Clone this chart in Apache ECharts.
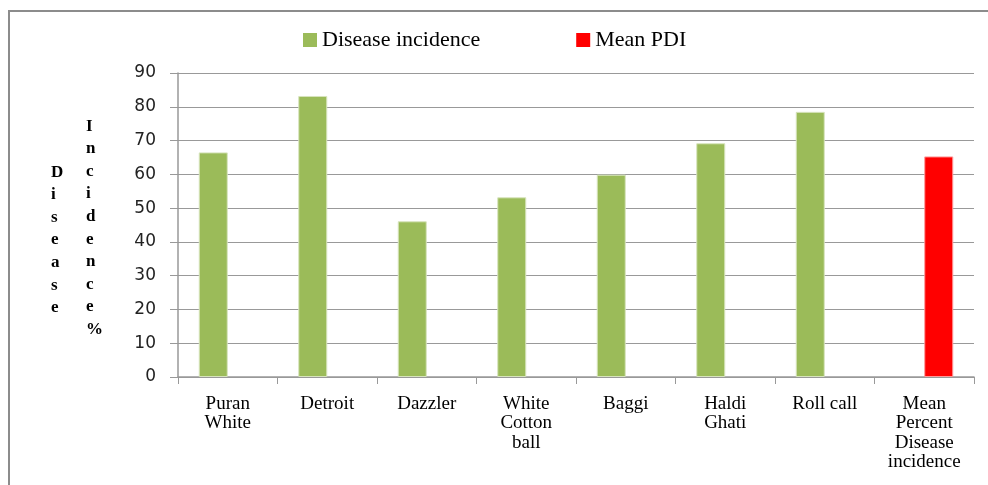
<!DOCTYPE html>
<html>
<head>
<meta charset="utf-8">
<script src="https://cdn.jsdelivr.net/npm/echarts@6/dist/echarts.min.js"></script>
<style>
  html, body { margin: 0; padding: 0; background: #fff; }
  #main { width: 988px; height: 485px; }
</style>
</head>
<body>
<div id="main"></div>
<script>
// 数据
var categories = ['Puran\nWhite', 'Detroit', 'Dazzler', 'White\nCotton\nball', 'Baggi', 'Haldi\nGhati', 'Roll call', 'Mean\nPercent\nDisease\nincidence'];
var incidence = [66.5, 83.2, 46.1, 53.2, 59.9, 69.2, 78.5, '-'];
var meanPDI = ['-', '-', '-', '-', '-', '-', '-', 65.3];
var yTicks = [0, 10, 20, 30, 40, 50, 60, 70, 80, 90];

var serif = '"Liberation Serif", "Times New Roman", serif';
var myChart = echarts.init(document.getElementById('main'));

option = {
    animation: false,
    backgroundColor: '#fff',
    legend: {
        top: 24,
        left: 298,
        itemWidth: 14,
        itemHeight: 14,
        itemGap: 96,
        itemStyle: { borderWidth: 0 },
        textStyle: { fontFamily: serif, fontSize: 22, color: '#000' },
        data: [
            { name: 'Disease incidence', icon: 'rect' },
            { name: 'Mean PDI', icon: 'rect' }
        ]
    },
    grid: { left: 178, right: 14, top: 73, bottom: 108 },
    xAxis: {
        type: 'category',
        data: categories,
        axisLine: { lineStyle: { color: '#999', width: 1.5 } },
        axisTick: { show: true, length: 7, alignWithLabel: false, lineStyle: { color: '#999' } },
        axisLabel: {
            interval: 0,
            margin: 17,
            fontFamily: serif,
            fontSize: 19,
            lineHeight: 19.5,
            color: '#000'
        }
    },
    yAxis: {
        type: 'value',
        min: yTicks[0],
        max: yTicks[yTicks.length - 1],
        interval: 10,
        axisLine: { show: true, lineStyle: { color: '#999', width: 1.5 } },
        axisTick: { show: true, length: 8, lineStyle: { color: '#999' } },
        splitLine: { lineStyle: { color: '#999', width: 1.2 } },
        axisLabel: {
            margin: 22,
            fontFamily: '"DejaVu Sans", Verdana, sans-serif',
            fontSize: 17,
            color: '#222'
        }
    },
    series: [
        {
            name: 'Disease incidence',
            type: 'bar',
            data: incidence,
            barWidth: 29,
            barGap: '0%',
            itemStyle: { color: '#9BBB59', borderColor: '#D7E4BD', borderWidth: 1 }
        },
        {
            name: 'Mean PDI',
            type: 'bar',
            data: meanPDI,
            barWidth: 29,
            barGap: '0%',
            itemStyle: { color: '#FF0000', borderColor: '#FF9999', borderWidth: 1 }
        }
    ],
    graphic: [
        {
            type: 'rect',
            shape: { x: 9, y: 11, width: 1100, height: 600 },
            style: { fill: 'none', stroke: '#8c8c8c', lineWidth: 2 },
            silent: true
        },
        {
            type: 'text',
            left: 51,
            top: 161,
            style: {
                text: 'D\ni\ns\ne\na\ns\ne',
                font: 'bold 17px ' + serif,
                lineHeight: 22.6,
                align: 'center',
                fill: '#000'
            }
        },
        {
            type: 'text',
            left: 86,
            top: 115,
            style: {
                text: 'I\nn\nc\ni\nd\ne\nn\nc\ne\n%',
                font: 'bold 17px ' + serif,
                lineHeight: 22.6,
                align: 'center',
                fill: '#000'
            }
        }
    ]
};

if (option && typeof option === "object") {
    myChart.setOption(option, true);
}
</script>
</body>
</html>
